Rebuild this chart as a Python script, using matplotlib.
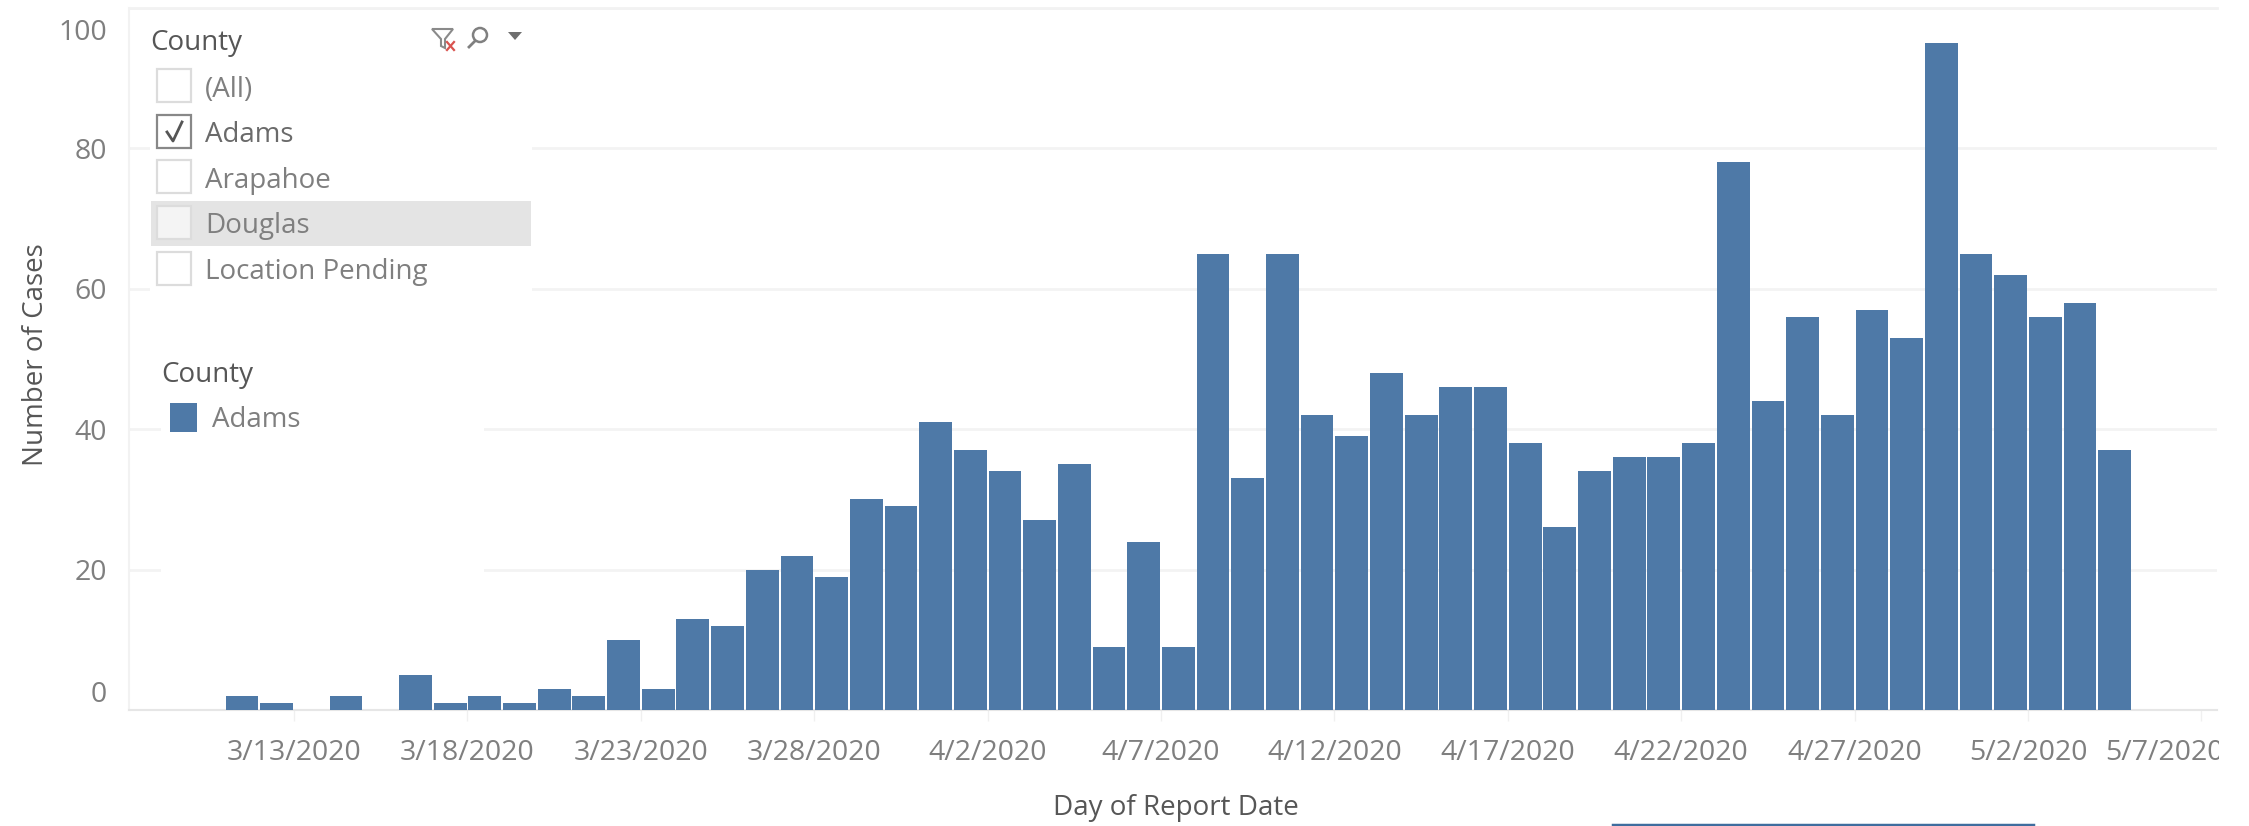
import matplotlib
matplotlib.use("Agg")
import matplotlib.pyplot as plt
import numpy as np
from matplotlib.patches import Rectangle, Polygon, Circle
from matplotlib.transforms import ScaledTranslation

plt.rcParams['font.family'] = ['Open Sans', 'DejaVu Sans']

# Daily cases, first bar is 3/11/2020, last is 5/4/2020
cases = [2, 1, 0, 2, 0, 5, 1, 2, 1, 3, 2, 10, 3, 13, 12, 20, 22, 19, 30, 29, 41,
         37, 34, 27, 35, 9, 24, 9, 65, 33, 65, 42, 39, 48, 42, 46, 46, 38, 26, 34,
         36, 36, 38, 78, 44, 56, 42, 57, 53, 95, 65, 62, 56, 58, 37]

# Days counted from 3/11/2020
tick_days = [2, 7, 12, 17, 22, 27, 32, 37, 42, 47, 52, 57]
tick_labels = ['3/13/2020', '3/18/2020', '3/23/2020', '3/28/2020', '4/2/2020', '4/7/2020',
               '4/12/2020', '4/17/2020', '4/22/2020', '4/27/2020', '5/2/2020', '5/7/2020']
y_ticks = [0, 20, 40, 60, 80, 100]
filter_items = ['(All)', 'Adams', 'Arapahoe', 'Douglas', 'Location Pending']

BAR = '#4e79a7'
TICK_GRAY = '#7f7f7f'
DARK = '#565656'
W, H = 2249, 826
DPI = 100


def main():
    fig = plt.figure(figsize=(W / DPI, H / DPI), dpi=DPI)

    # Plot area in pixels: x 129-2217, y 8-710
    ax = fig.add_axes([129 / W, 1 - 710 / H, (2217 - 129) / W, 702 / H])
    days = np.arange(len(cases))
    ax.bar(days + 0.5, cases, width=0.945, color=BAR, linewidth=0, zorder=3)
    ax.set_xlim(-2.76, 57.45)
    ax.set_ylim(0, 100)

    ax.set_yticks(y_ticks)
    ax.set_xticks(tick_days)
    ax.set_xticklabels(tick_labels)
    ax.grid(axis='y', color='#f3f3f3', linewidth=2, zorder=0)
    ax.set_axisbelow(True)
    ax.tick_params(axis='x', length=8, width=1, color='#f0f0f0', labelsize=20.5,
                   labelcolor=TICK_GRAY, pad=13)
    ax.tick_params(axis='y', length=0, labelsize=20.5, labelcolor=TICK_GRAY, pad=16)

    for side in ['top', 'right']:
        ax.spines[side].set_visible(False)
    ax.spines['left'].set_color('#f2f2f2')
    ax.spines['bottom'].set_color('#e6e6e6')
    ax.spines['left'].set_linewidth(1.5)
    ax.spines['bottom'].set_linewidth(1.5)

    # Tableau pushes the end labels inwards
    to_px = fig.dpi_scale_trans
    y_shift = {0: 18, 100: -22}
    for value, label in zip(y_ticks, ax.get_yticklabels()):
        dy = y_shift.get(value, 0) / DPI
        label.set_transform(label.get_transform() + ScaledTranslation(0, dy, to_px))
    last = ax.get_xticklabels()[-1]
    last.set_transform(last.get_transform() + ScaledTranslation(-37 / DPI, 0, to_px))

    ax.set_xlabel('Day of Report Date', fontsize=20, color=DARK, va='center')
    ax.xaxis.set_label_coords((1176 - 129) / 2088, -(808 - 710) / 702)
    ax.set_ylabel('Number of Cases', fontsize=20, color=DARK, va='center')
    ax.yaxis.set_label_coords((36 - 129) / 2088, (710 - 355) / 702)

    # Overlay in picture pixels for the filter card and the legend
    ov = fig.add_axes([0, 0, 1, 1], facecolor='none', zorder=5)
    ov.set_xlim(0, W)
    ov.set_ylim(H, 0)
    ov.axis('off')

    ov.add_patch(Rectangle((150, 12), 382, 283, color='white', lw=0))
    ov.add_patch(Rectangle((161, 295), 323, 285, color='white', lw=0))
    ov.add_patch(Rectangle((2219, 735), 30, 50, color='white', lw=0))  # cuts the last label
    ov.add_patch(Rectangle((151, 201), 380, 45, color='#e4e4e4', lw=0))

    ov.text(150, 43, 'County', fontsize=20, color=DARK, va='center')
    box_tops = [69, 115, 160, 206, 252]
    label_ys = [90, 135, 181, 226, 272]
    for i, name in enumerate(filter_items):
        checked = name == 'Adams'
        ov.add_patch(Rectangle((157, box_tops[i]), 34, 33, fc='none' if name != 'Douglas' else '#f4f4f4',
                               ec='#888888' if checked else '#dcdcdc', lw=1.6))
        ov.text(205, label_ys[i], name, fontsize=20, color=TICK_GRAY if not checked else '#6a6a6a',
                va='center')
    ov.plot([167, 173, 182], [132, 141, 122], color='#555555', lw=2)

    # filter / search / menu icons
    ov.add_patch(Polygon([[432, 29], [453, 29], [445, 39], [445, 48], [441, 46], [441, 39]],
                         fc='none', ec='#8a8a8a', lw=1.5))
    ov.plot([447, 454], [42, 50], color='#d9534f', lw=1.6)
    ov.plot([454, 447], [42, 50], color='#d9534f', lw=1.6)
    ov.add_patch(Circle((480, 35), 7, fc='none', ec='#808080', lw=1.8))
    ov.plot([475, 469], [41, 47], color='#808080', lw=2)
    ov.add_patch(Polygon([[508, 32], [522, 32], [515, 40]], fc='#6f6f6f', ec='none'))

    # colour legend
    ov.text(161, 375, 'County', fontsize=20, color=DARK, va='center')
    ov.add_patch(Rectangle((170, 403), 27, 29, color=BAR, lw=0))
    ov.text(212, 420, 'Adams', fontsize=20, color=TICK_GRAY, va='center')

    # top rule and the cut-off blue line at the bottom edge
    ov.plot([129, 2217], [8, 8], color='#f2f2f2', lw=2)
    ov.plot([1613, 2033], [825, 825], color='#3f6d9e', lw=2.5)

    fig.savefig('out.png', dpi=DPI, facecolor='white')


if __name__ == "__main__":
    main()
